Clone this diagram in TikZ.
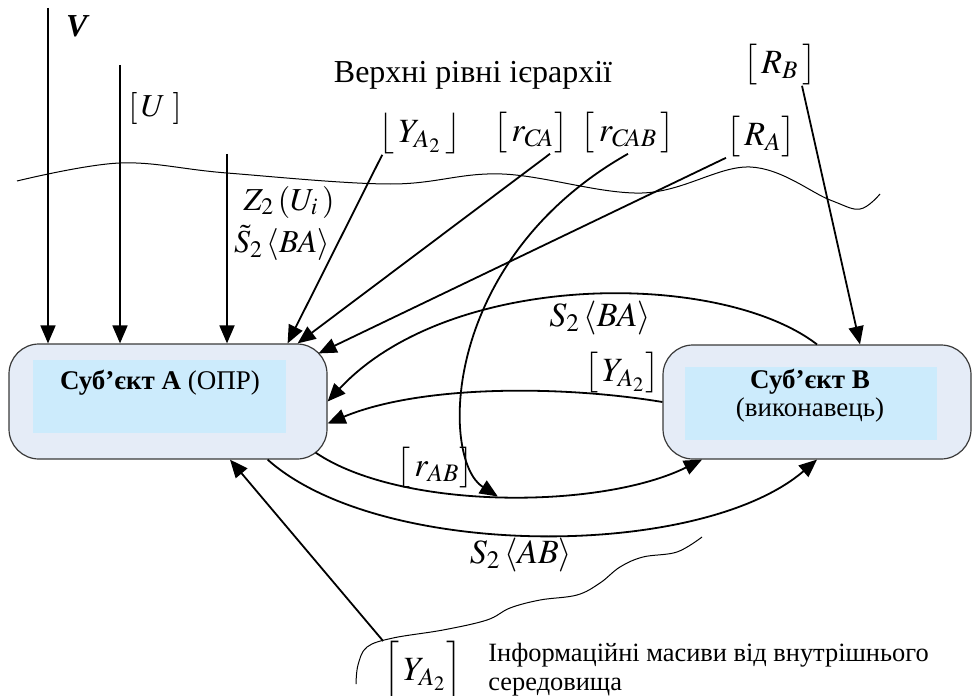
\documentclass[tikz,border=0pt]{standalone}
\usepackage{mathptmx}
\usepackage{fontspec}
\setmainfont{Liberation Serif}
\usetikzlibrary{arrows.meta}

\definecolor{boxfill}{HTML}{E5ECF7}
\definecolor{boxin}{HTML}{CCEBFC}
\definecolor{boxline}{HTML}{3A3A3A}

\tikzset{
  subj/.style={draw=boxline,fill=boxfill,rounded corners=15pt,line width=0.6pt,inner sep=0pt},
  subjin/.style={fill=boxin,inner sep=0pt},
  arr/.style={-{Triangle[length=9pt,width=7.5pt]},line width=0.9pt},
  wave/.style={line width=0.5pt},
  lbl/.style={inner sep=0pt,font=\fontsize{17}{19}\selectfont},
}

\begin{document}
\begin{tikzpicture}[x=0.5pt,y=-0.5pt]
\useasboundingbox (0,0) rectangle (972,695);

% subjects
\node[subj,minimum width=159pt,minimum height=57.5pt] (A) at (168,401.5) {};
\node[subjin,minimum width=126.5pt,minimum height=36.5pt] (Ain) at (159.5,396.5) {};
\node[font=\fontsize{13.5}{15}\selectfont] (Atxt) at (160,383) {\textbf{Суб’єкт А} (ОПР)};

\node[subj,minimum width=154pt,minimum height=57pt] (B) at (817,402) {};
\node[subjin,minimum width=126pt,minimum height=36.5pt] (Bin) at (811,403.5) {};
\node[font=\fontsize{13.5}{14}\selectfont,align=center] (Btxt) at (810,396) {\textbf{Суб’єкт В}\\(виконавець)};

% borders of the levels
\draw[wave] plot[smooth,tension=0.6] coordinates {(17,181) (120,163) (227,173) (390,184) (502,174) (642,193) (750,167) (830,200) (860,209) (880,194)};
\draw[wave] plot[smooth,tension=0.6] coordinates {(702,537) (677,552) (643,557) (620,567) (600,583) (577,595) (540,600) (510,608) (487,620) (443,630) (393,638) (367,647) (358,665) (356,684)};

% inputs from above
\coordinate (vtop) at (48,8);
\coordinate (utop) at (120,65);
\coordinate (ztop) at (227,154);
\draw[arr] (vtop) -- (vtop |- A.north);
\draw[arr] (utop) -- (utop |- A.north);
\draw[arr] (ztop) -- (ztop |- A.north);
\node[font=\fontsize{16}{18}\selectfont] (vlab) at (78,26) {\textbf{\textit{V}}};
\node[font=\fontsize{16}{18}\selectfont] (ulab) at (155,109) {$[\,U\;]$};
\node[inner sep=0pt,font=\fontsize{16}{18}\selectfont] (zlab) at (289,202) {$Z_2\,(U_i\,)$};
\node[inner sep=0pt,font=\fontsize{16}{18}\selectfont] (slab) at (282,243) {$\tilde S_2\,\langle BA\rangle$};

\node[font=\fontsize{16}{18}\selectfont] (top) at (473,75) {Верхні рівні ієрархії};
\node[lbl] (ya) at (420,134) {$\bigl\lfloor\,Y_{A_2}\,\bigr\rfloor$};
\node[lbl] (rca) at (531,133) {$\bigl[\,r_{C\!A}\bigr]$};
\node[lbl] (rcab) at (628,133) {$\bigl[\,r_{C\!AB}\,\bigr]$};
\node[lbl] (ra) at (761,137) {$\bigl[\,R_{A}\bigr]$};
\node[lbl] (rb) at (780,65) {$\bigl[\,R_{B}\,\bigr]$};

\draw[arr] ([xshift=2pt]ya.south west) -- ([xshift=-20pt]A.north east);
\draw[arr] ([xshift=9.5pt]rca.south) -- ([xshift=-15pt]A.north east);
\draw[arr] (ra.south west) -- ([shift={(-4.5pt,-5pt)}]A.north east);
\draw[arr] ([xshift=11pt]rb.south) -- ([xshift=21.5pt]B.north);

% links between A and B
\draw[arr] (B.north) .. controls (720,270) and (450,270) .. (A.east);
\node[lbl] (sba) at (600,318) {$S_2\,\langle BA\rangle$};
\draw[arr] (B.west) .. controls (560,385) and (420,385) .. ([yshift=-11pt]A.east);
\node[lbl] (yab) at (622,373) {$\bigl[\,Y_{A_2}\bigr]$};

\draw[arr] ([shift={(-6pt,3.5pt)}]A.south east) .. controls (400,510) and (600,510) .. ([xshift=-57.5pt]B.south) coordinate[pos=0.49] (rabmid);
\node[lbl] (rab) at (435,468) {$\bigl[\,r_{AB}\bigr]$};
\draw[arr] ([xshift=-30pt]A.south east) .. controls (380,560) and (700,560) .. (B.south);
\node[lbl] (sab) at (521,555) {$S_2\,\langle AB\rangle$};

\draw[arr] (rcab.south) .. controls (440,260) and (440,460) .. (rabmid);

% inner environment
\node[lbl] (yabot) at (423,672) {$\Bigl[\,Y_{A_2}\Bigr]$};
\draw[arr] (yabot.north west) -- ([xshift=31pt]A.south);
\node[anchor=west,align=left,inner sep=0pt,font=\fontsize{13.2}{14.5}\selectfont] (inftxt) at (488,670) {Інформаційні масиви від внутрішнього\\середовища};
\end{tikzpicture}
\end{document}
